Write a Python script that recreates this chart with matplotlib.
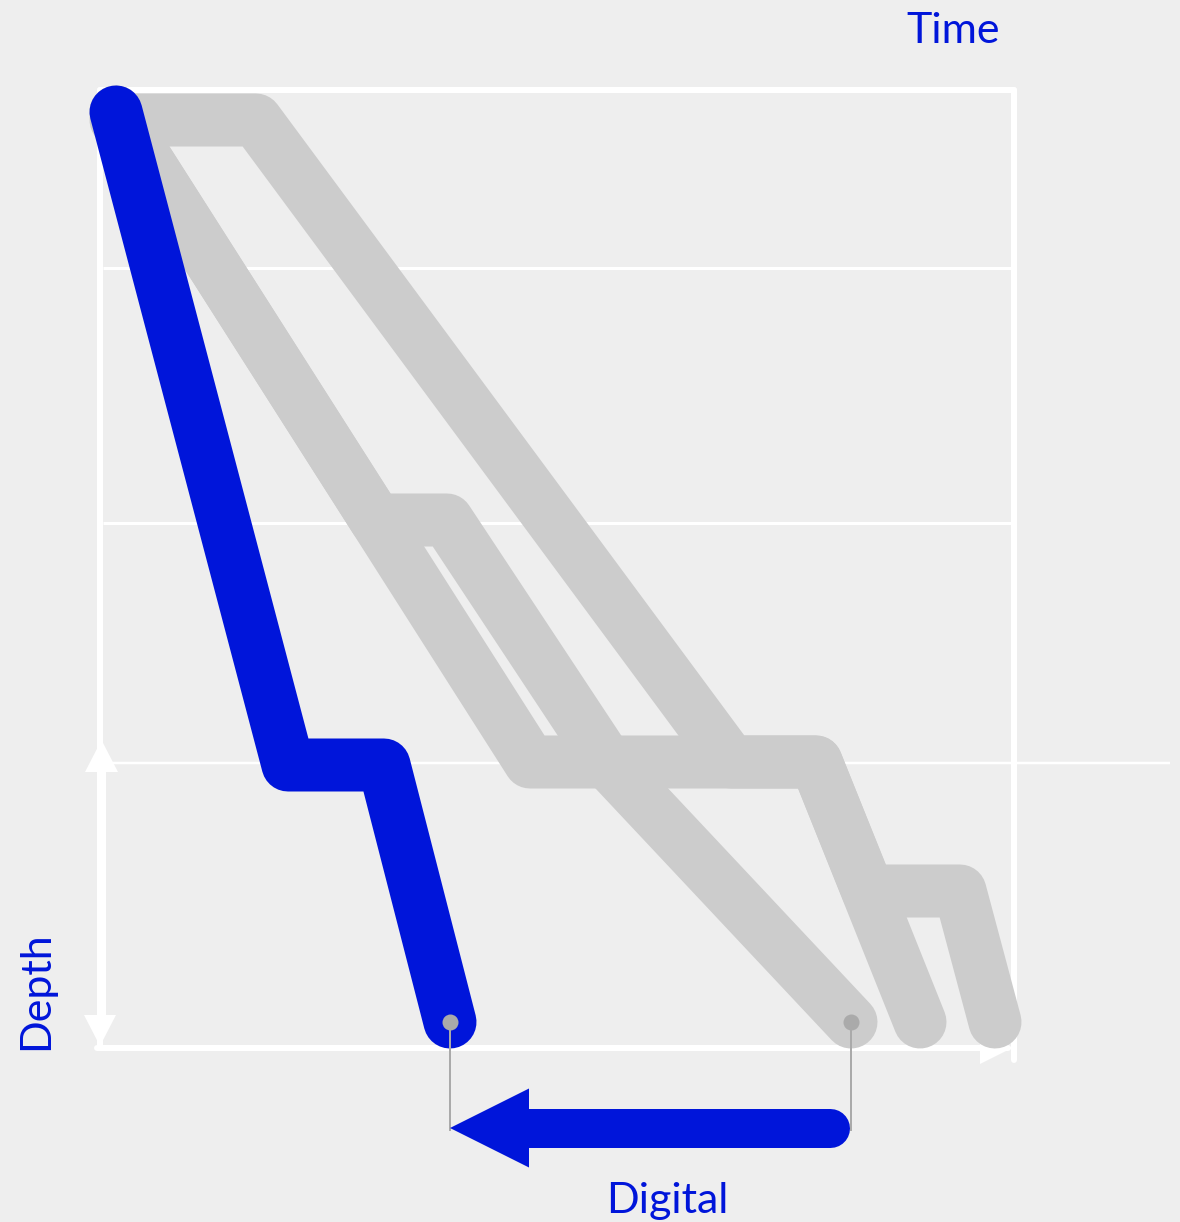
import matplotlib.pyplot as plt

BLUE = '#0015DA'
GREY = '#CCCCCC'
DOT_GREY = '#AAAAAA'
BG = '#EEEEEE'

# paths: time along x, depth along y (image units)
blue_time = [116, 288, 384, 450]
blue_depth = [112, 765, 765, 1022]

grey1_time = [116, 256, 731, 816, 920]
grey1_depth = [120, 120, 762, 762, 1022]

grey2_time = [116, 530, 816, 868, 960, 995]
grey2_depth = [112, 762, 762, 891, 891, 1022]

grey3_time = [116, 376, 447, 607, 851]
grey3_depth = [112, 520, 520, 762, 1022]

grid_depths = [268, 523]
frame_left, frame_right = 100, 1014
frame_top, frame_bottom = 90, 1047
ref_depth = 763          # long reference line

digital_y = 1128
labels = {'time': 'Time', 'depth': 'Depth', 'digital': 'Digital'}

W, H = 1180, 1222
PX = 0.72  # points per pixel at dpi 100


def head(ax, tip_x, tip_y, dx, dy, length, width, color, z):
    bx, by = tip_x - dx * length, tip_y - dy * length
    px, py = -dy, dx
    ax.fill([tip_x, bx + px * width / 2, bx - px * width / 2],
            [tip_y, by + py * width / 2, by - py * width / 2],
            color=color, lw=0, zorder=z)


fig = plt.figure(figsize=(W / 100, H / 100), dpi=100, facecolor=BG)
ax = fig.add_axes([0, 0, 1, 1])
ax.set_facecolor(BG)
ax.set_xlim(0, W)
ax.set_ylim(H, 0)
ax.axis('off')

white = dict(color='white', solid_capstyle='round', zorder=1)
# frame
ax.plot([frame_left, frame_right], [frame_top, frame_top], lw=6 * PX, **white)
ax.plot([frame_right, frame_right], [frame_top, 1060], lw=6 * PX, **white)
ax.plot([frame_left, frame_left], [frame_top, frame_bottom], lw=6 * PX, **white)
ax.plot([frame_left - 3, frame_right - 6], [frame_bottom + 1, frame_bottom + 1],
        lw=6 * PX, **white)
for d in grid_depths:
    ax.plot([frame_left + 3, frame_right - 3], [d, d], lw=3 * PX,
            color='white', solid_capstyle='butt', zorder=1)
ax.plot([frame_left, 1170], [ref_depth, ref_depth], lw=2.5 * PX,
        color='white', solid_capstyle='butt', zorder=1)

# time arrow head (bottom right)
head(ax, 1012, frame_bottom + 1, 1, 0, 32, 32, 'white', 1)

# depth double arrow
ax.plot([101.5, 101.5], [765, 1020], lw=8 * PX, color='white',
        solid_capstyle='butt', zorder=1)
head(ax, 101.5, 740, 0, -1, 32, 33, 'white', 1)
head(ax, 100, 1046, 0, 1, 31, 32, 'white', 1)

line_kw = dict(lw=53 * PX, solid_capstyle='round', solid_joinstyle='round')
for t, d in [(grey1_time, grey1_depth), (grey2_time, grey2_depth),
             (grey3_time, grey3_depth)]:
    ax.plot(t, d, color=GREY, zorder=3, **line_kw)
ax.plot(blue_time, blue_depth, color=BLUE, zorder=4, **line_kw)

# connectors from the two end points to the digital arrow
for x_end, d_end in [(blue_time[-1], blue_depth[-1]),
                     (grey3_time[-1], grey3_depth[-1])]:
    ax.plot([x_end, x_end], [d_end, digital_y + 2], color=DOT_GREY,
            lw=2 * PX, zorder=5)
    ax.plot(x_end, d_end, 'o', ms=16 * PX, color=DOT_GREY, mec='none', zorder=6)

# digital arrow
arrow_tip = blue_time[-1]
arrow_tail = grey3_time[-1] - 21
head_len, head_w = 79, 79
ax.plot([arrow_tail, arrow_tip + head_len], [digital_y, digital_y],
        lw=39 * PX, color=BLUE, solid_capstyle='round', zorder=7)
head(ax, arrow_tip, digital_y, -1, 0, head_len, head_w, BLUE, 7)

font = dict(family=['Lato', 'DejaVu Sans'], size=31, color=BLUE)
ax.text(953, 43, labels['time'], ha='center', va='baseline', **font)
ax.text(667, 1213, labels['digital'], ha='center', va='baseline', **font)
ax.text(36, 991, labels['depth'], ha='center', va='center', rotation=90, **font)

fig.savefig('out.png', dpi=100, facecolor=BG)
